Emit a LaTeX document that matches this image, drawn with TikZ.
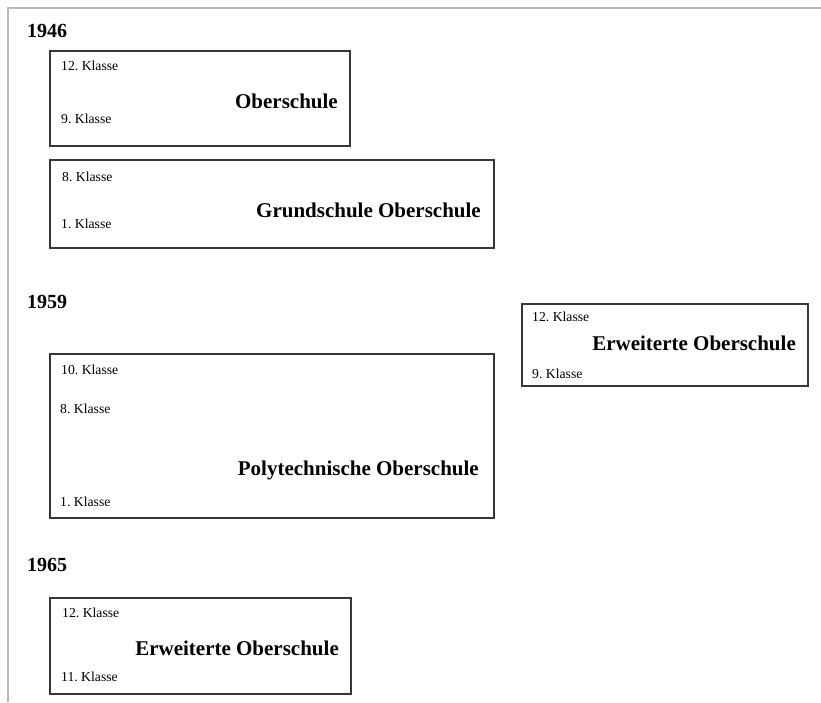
\documentclass[tikz,border=0pt]{standalone}
\usepackage{fontspec}
\setmainfont{Liberation Serif}
\usepackage{xcolor}
\definecolor{lgray}{RGB}{185,185,185}
\definecolor{dgray}{RGB}{55,55,55}
\frenchspacing

\begin{document}
\begin{tikzpicture}[x=1pt, y=-1pt]
  \tikzset{school box/.style 2 args={draw=dgray, line width=1.6pt, anchor=north west, minimum width=#1pt, minimum height=#2pt, inner sep=0pt},
           klasse/.style={anchor=west, inner sep=0pt, text height=9pt, text depth=0pt, font=\fontsize{13.7}{16}\selectfont},
           school/.style={anchor=east, inner sep=0pt, text height=14pt, text depth=0pt, font=\fontsize{21}{24}\selectfont\bfseries},
           year/.style={anchor=west, inner sep=0pt, text height=13pt, text depth=0pt, font=\fontsize{20}{24}\selectfont\bfseries}}
  \useasboundingbox (0,0) rectangle (821,702);

  % page frame
  \coordinate (tr) at (821,8);
  \coordinate (tl) at (8,8);
  \coordinate (bl) at (8,702);
  \draw[lgray, line width=2pt] (tr) -- (tl) -- (bl);

  \node[year] (y46) at (27,31) {1946}; % 1946
  \node[school box={300}{95}] (ober) at (49,50) {};
  \node[klasse] (ober12) at (61,66) {12. Klasse};
  \node[klasse] (ober9) at (61,119) {9. Klasse};
  \node[school] (oberT) at (338,101) {Oberschule};

  \node[school box={444}{88}] (grund) at (49,159) {};
  \node[klasse] (grund8) at (62,177) {8. Klasse};
  \node[klasse] (grund1) at (61,224) {1. Klasse};
  \node[school] (grundT) at (481,210) {Grundschule Oberschule};

  \node[year] (y59) at (27,302) {1959}; % 1959
  \node[school box={444}{164}] (pos) at (49,353) {};
  \node[klasse] (pos10) at (61,370) {10. Klasse};
  \node[klasse] (pos8) at (60,409) {8. Klasse};
  \node[klasse] (pos1) at (60,502) {1. Klasse};
  \node[school] (posT) at (479,468) {Polytechnische Oberschule};

  \node[school box={286}{82}] (eosA) at (521,303) {};
  \node[klasse] (eosA12) at (532,317) {12. Klasse};
  \node[klasse] (eosA9) at (532,374) {9. Klasse};
  \node[school] (eosAT) at (796,343) {Erweiterte Oberschule};

  \node[year] (y65) at (27,565) {1965}; % 1965
  \node[school box={301}{96}] (eosB) at (49,597) {};
  \node[klasse] (eosB12) at (62,613) {12. Klasse};
  \node[klasse] (eosB11) at (61,677) {11. Klasse};
  \node[school] (eosBT) at (339,648) {Erweiterte Oberschule};
\end{tikzpicture}
\end{document}
